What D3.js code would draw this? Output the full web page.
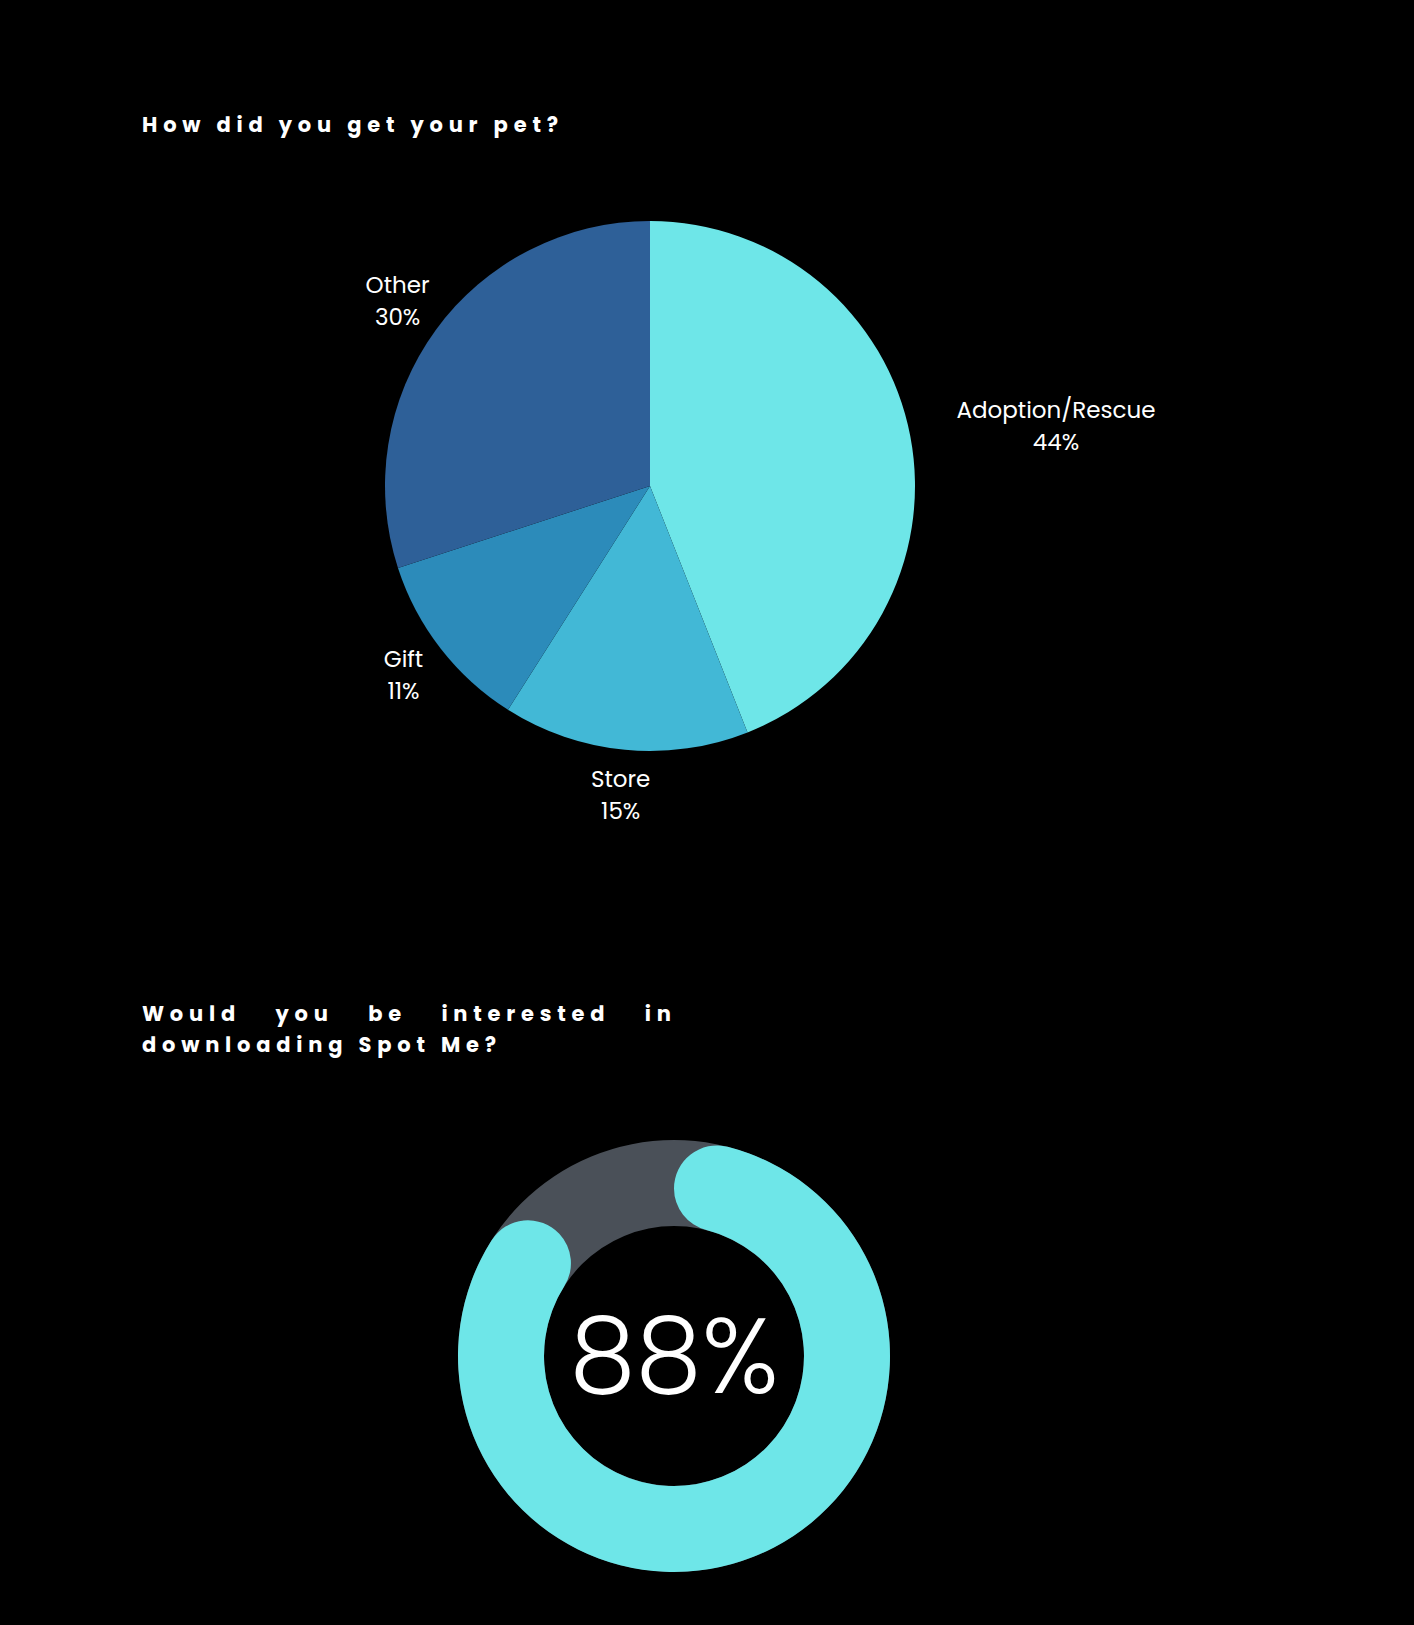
<!DOCTYPE html>
<html>
<head>
<meta charset="utf-8">
<script src="https://cdn.jsdelivr.net/npm/d3@7"></script>
<style>
  html, body { margin: 0; padding: 0; background: #000; }
  svg { display: block; }
</style>
</head>
<body>
<svg id="chart" width="1414" height="1625"></svg>
<script>
// ---- data ----
const pieTitle = "How did you get your pet?";
const pieCategories = ["Adoption/Rescue", "Store", "Gift", "Other"];
const pieValues = [44, 15, 11, 30];
const pieColors = ["#6EE6E8", "#42B8D6", "#2C8BBA", "#2E6098"];

const donutTitleLines = ["Would you be interested in", "downloading Spot Me?"];
const donutValue = 88;
const donutTotal = 100;
const donutColors = ["#6EE6E8", "#4A5058"];

// ---- drawing ----
const svg = d3.select("#chart");
svg.append("rect").attr("width", 1414).attr("height", 1625).attr("fill", "#000");

const titleFont = "Poppins, 'Open Sans', 'DejaVu Sans', sans-serif";
const labelFont = "Poppins, 'Open Sans', Lato, sans-serif";
const titleSize = 21;
const titleWeight = 700;

function spacedText(x, y, txt, targetWidth, size) {
  const t = svg.append("text")
    .attr("x", x).attr("y", y)
    .attr("fill", "#fff")
    .attr("font-family", titleFont)
    .attr("font-weight", titleWeight)
    .attr("font-size", size)
    .text(txt);
  const w = t.node().getComputedTextLength();
  const ls = (targetWidth - w) / (txt.length - 1);
  t.attr("letter-spacing", ls);
  return ls;
}
const ls = spacedText(142, 132, pieTitle, 416, titleSize);

// Pie
const pcx = 650, pcy = 486, pr = 265;
const pie = d3.pie().sort(null).value(d => d)(pieValues);
const arc = d3.arc().innerRadius(0).outerRadius(pr);
const gPie = svg.append("g").attr("transform", `translate(${pcx},${pcy})`);
gPie.selectAll("path").data(pie).join("path")
  .attr("d", arc)
  .attr("fill", (d, i) => pieColors[i]);

const labelR = 312;
pie.forEach((d, i) => {
  const a = (d.startAngle + d.endAngle) / 2;
  const s = Math.sin(a), c = -Math.cos(a);
  let x = labelR * s;
  const y = labelR * c;
  const t = gPie.append("text")
    .attr("fill", "#fff")
    .attr("font-family", labelFont)
    .attr("font-size", 23)
    .attr("text-anchor", "middle");
  const t1 = t.append("tspan").attr("x", x).attr("y", y - 10).text(pieCategories[i]);
  const t2 = t.append("tspan").attr("x", x).attr("y", y + 22).text(pieValues[i] + "%");
  if (Math.abs(s) > 0.9) {
    const w = t1.node().getComputedTextLength();
    x += Math.sign(s) * w / 2;
    t1.attr("x", x);
    t2.attr("x", x);
  }
});

// Title 2: justified first line, natural second line
(function () {
  const x0 = 142, x1 = 671, y1 = 1021, y2 = 1052;
  const words = donutTitleLines[0].split(" ");
  const widths = words.map(w => {
    const t = svg.append("text")
      .attr("font-family", titleFont).attr("font-weight", titleWeight)
      .attr("font-size", titleSize).attr("letter-spacing", ls).text(w);
    const wd = t.node().getComputedTextLength() - ls;
    t.remove();
    return wd;
  });
  const total = d3.sum(widths);
  const gap = (x1 - x0 - total) / (words.length - 1);
  let x = x0;
  words.forEach((w, i) => {
    svg.append("text")
      .attr("x", x).attr("y", y1)
      .attr("fill", "#fff")
      .attr("font-family", titleFont).attr("font-weight", titleWeight)
      .attr("font-size", titleSize).attr("letter-spacing", ls)
      .text(w);
    x += widths[i] + gap;
  });
  svg.append("text")
    .attr("x", x0).attr("y", y2)
    .attr("fill", "#fff")
    .attr("font-family", titleFont).attr("font-weight", titleWeight)
    .attr("font-size", titleSize).attr("letter-spacing", ls)
    .text(donutTitleLines[1]);
})();

// Donut
const dcx = 674, dcy = 1356, dRo = 216, dRi = 130;
const gD = svg.append("g").attr("transform", `translate(${dcx},${dcy})`);
const angle = d3.scaleLinear().domain([0, donutTotal]).range([0, 2 * Math.PI]);
gD.append("path")
  .attr("d", d3.arc().innerRadius(dRi).outerRadius(dRo).startAngle(0).endAngle(2 * Math.PI)())
  .attr("fill", donutColors[1]);
gD.append("path")
  .attr("d", d3.arc().innerRadius(dRi).outerRadius(dRo)
    .cornerRadius((dRo - dRi) / 2).startAngle(0).endAngle(angle(donutValue))())
  .attr("fill", donutColors[0]);
gD.append("text")
  .attr("x", 0).attr("y", 37)
  .attr("text-anchor", "middle")
  .attr("fill", "#fff")
  .attr("font-family", "Poppins, Lato, 'Open Sans', sans-serif")
  .attr("font-weight", 300)
  .attr("font-size", 106)
  .text(donutValue + "%");
</script>
</body>
</html>
